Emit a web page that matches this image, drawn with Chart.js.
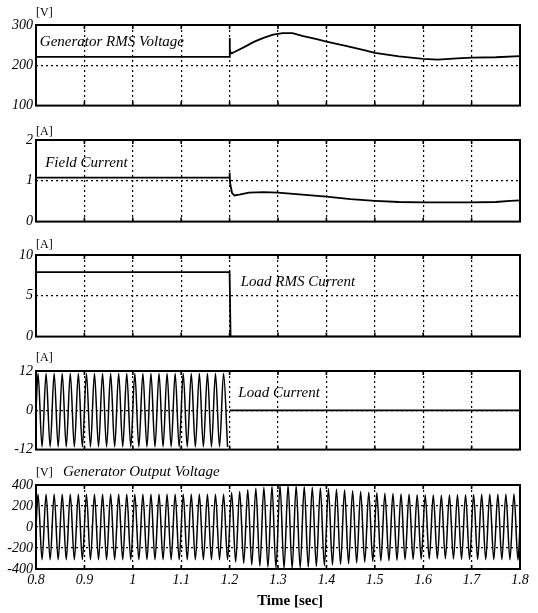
<!DOCTYPE html>
<html>
<head>
<meta charset="utf-8">
<script src="https://cdn.jsdelivr.net/npm/chart.js@4/dist/chart.umd.min.js"></script>
<style>
  html, body { margin: 0; padding: 0; background: #fff; }
  body { width: 538px; height: 613px; position: relative; overflow: hidden; }
  .panel { position: absolute; left: 0; }
</style>
</head>
<body>
<div class="panel" id="w1"><canvas id="c1"></canvas></div>
<div class="panel" id="w2"><canvas id="c2"></canvas></div>
<div class="panel" id="w3"><canvas id="c3"></canvas></div>
<div class="panel" id="w4"><canvas id="c4"></canvas></div>
<div class="panel" id="w5"><canvas id="c5"></canvas></div>
<script>
// ---------------- DATA ----------------
const timeTicks = [0.8, 0.9, 1, 1.1, 1.2, 1.3, 1.4, 1.5, 1.6, 1.7, 1.8];
const timeTickLabels = ['0.8', '0.9', '1', '1.1', '1.2', '1.3', '1.4', '1.5', '1.6', '1.7', '1.8'];

// Panel 1: Generator RMS Voltage [V]
const rmsVoltTicks = [100, 200, 300];
const rmsVoltTime  = [0.8, 1.199, 1.2, 1.2008, 1.202, 1.21, 1.23, 1.25, 1.27, 1.29, 1.31, 1.33, 1.35, 1.38, 1.40, 1.44, 1.48, 1.50, 1.55, 1.60, 1.63, 1.67, 1.70, 1.75, 1.80];
const rmsVoltValue = [221, 221, 268, 240, 229, 233, 245, 258, 268, 276, 280, 280, 273, 265, 259, 248, 237, 231, 222, 216, 214, 217, 219, 220, 223];

// Panel 2: Field Current [A]
const fieldTicks = [0, 1, 2];
const fieldTime  = [0.8, 1.199, 1.2, 1.201, 1.205, 1.21, 1.22, 1.24, 1.27, 1.30, 1.35, 1.40, 1.45, 1.50, 1.55, 1.60, 1.65, 1.70, 1.75, 1.78, 1.80];
const fieldValue = [1.08, 1.08, 1.2, 0.95, 0.7, 0.64, 0.66, 0.71, 0.72, 0.71, 0.66, 0.61, 0.55, 0.51, 0.48, 0.47, 0.47, 0.47, 0.48, 0.51, 0.52];

// Panel 3: Load RMS Current [A]
const loadRmsTicks = [0, 5, 10];
const loadRmsTime  = [0.8, 1.2, 1.202, 1.8];
const loadRmsValue = [7.9, 7.9, 0, 0];

// Times of the waveform peaks (60 Hz, one per half-cycle)
const peakTimes = [
  0.8042, 0.8125, 0.8208, 0.8292, 0.8375, 0.8458,
  0.8542, 0.8625, 0.8708, 0.8792, 0.8875, 0.8958,
  0.9042, 0.9125, 0.9208, 0.9292, 0.9375, 0.9458,
  0.9542, 0.9625, 0.9708, 0.9792, 0.9875, 0.9958,
  1.0042, 1.0125, 1.0208, 1.0292, 1.0375, 1.0458,
  1.0542, 1.0625, 1.0708, 1.0792, 1.0875, 1.0958,
  1.1042, 1.1125, 1.1208, 1.1292, 1.1375, 1.1458,
  1.1542, 1.1625, 1.1708, 1.1792, 1.1875, 1.1958,
  1.2042, 1.2125, 1.2208, 1.2292, 1.2375, 1.2458,
  1.2542, 1.2625, 1.2708, 1.2792, 1.2875, 1.2958,
  1.3042, 1.3125, 1.3208, 1.3292, 1.3375, 1.3458,
  1.3542, 1.3625, 1.3708, 1.3792, 1.3875, 1.3958,
  1.4042, 1.4125, 1.4208, 1.4292, 1.4375, 1.4458,
  1.4542, 1.4625, 1.4708, 1.4792, 1.4875, 1.4958,
  1.5042, 1.5125, 1.5208, 1.5292, 1.5375, 1.5458,
  1.5542, 1.5625, 1.5708, 1.5792, 1.5875, 1.5958,
  1.6042, 1.6125, 1.6208, 1.6292, 1.6375, 1.6458,
  1.6542, 1.6625, 1.6708, 1.6792, 1.6875, 1.6958,
  1.7042, 1.7125, 1.7208, 1.7292, 1.7375, 1.7458,
  1.7542, 1.7625, 1.7708, 1.7792, 1.7875, 1.7958
];

// Panel 4: Load Current [A] (peaks up to 1.2 s, then zero)
const loadCurTicks = [-12, 0, 12];
const loadCurPeaks = [
  11.2, -11.2, 11.2, -11.2, 11.2, -11.2, 11.2, -11.2, 11.2, -11.2, 11.2, -11.2,
  11.2, -11.2, 11.2, -11.2, 11.2, -11.2, 11.2, -11.2, 11.2, -11.2, 11.2, -11.2,
  11.2, -11.2, 11.2, -11.2, 11.2, -11.2, 11.2, -11.2, 11.2, -11.2, 11.2, -11.2,
  11.2, -11.2, 11.2, -11.2, 11.2, -11.2, 11.2, -11.2, 11.2, -11.2, 11.2, -11.2
];
const loadCurTailTime  = [1.2, 1.8];
const loadCurTailValue = [0, 0];

// Panel 5: Generator Output Voltage [V] (peaks, one per half-cycle)
const genVoltTicks = [-400, -200, 0, 200, 400];
const genVoltPeaks = [
  312, -312, 312, -312, 312, -312, 312, -312, 312, -312, 312, -312,
  312, -312, 312, -312, 312, -312, 312, -312, 312, -312, 312, -312,
  312, -312, 312, -312, 312, -312, 312, -312, 312, -312, 312, -312,
  312, -312, 312, -312, 312, -312, 312, -312, 312, -312, 312, -312,
  328, -333, 339, -346, 354, -361, 368, -373, 379, -383, 387, -390,
  394, -395, 396, -395, 394, -390, 385, -382, 379, -375, 372, -368,
  365, -362, 359, -355, 352, -349, 346, -342, 339, -335, 332, -329,
  327, -324, 322, -320, 318, -316, 314, -312, 311, -309, 308, -306,
  305, -304, 304, -303, 303, -303, 304, -305, 307, -307, 308, -309,
  310, -310, 311, -311, 311, -311, 311, -311, 312, -313, 314, -314
];

// ---------------- RENDERING ----------------
const FONT = '"Liberation Serif", "Times New Roman", serif';
const PLOT_LEFT = 36, PLOT_RIGHT = 520, W = 538;

function pts(times, values) { return times.map((t, i) => ({ x: t, y: values[i] })); }

const framePlugin = {
  id: 'frame',
  afterDraw(chart, args, opts) {
    const { ctx, chartArea: a, scales } = chart;
    ctx.save();
    ctx.strokeStyle = '#000';
    ctx.lineWidth = 2;
    ctx.setLineDash([]);
    ctx.strokeRect(a.left, a.top, a.right - a.left, a.bottom - a.top);
    ctx.lineWidth = 1.6;
    scales.x.ticks.forEach(t => {
      const px = scales.x.getPixelForValue(t.value);
      ctx.beginPath();
      ctx.moveTo(px, a.top); ctx.lineTo(px, a.top + 4);
      ctx.moveTo(px, a.bottom); ctx.lineTo(px, a.bottom - 4);
      ctx.stroke();
    });
    ctx.fillStyle = '#000';
    ctx.textBaseline = 'middle';
    (opts.labels || []).forEach(l => {
      ctx.font = l.font;
      ctx.textAlign = l.align || 'left';
      const x = (l.x !== undefined) ? scales.x.getPixelForValue(l.x) : a.left + l.dx;
      const y = (l.y !== undefined) ? scales.y.getPixelForValue(l.y) : (l.below ? a.bottom + l.dy : a.top + l.dy);
      ctx.fillText(l.text, x, y);
    });
    ctx.restore();
  }
};

function makePanel(n, plotTop, plotBottom, p) {
  const padTop = 20;
  const xAxisH = p.showX ? 44 : 0;
  const padBottom = p.showX ? 0 : 10;
  const h = padTop + (plotBottom - plotTop) + xAxisH + padBottom;
  const wrap = document.getElementById('w' + n);
  wrap.style.top = (plotTop - padTop) + 'px';
  const cv = document.getElementById('c' + n);
  cv.width = W; cv.height = h;
  cv.style.width = W + 'px'; cv.style.height = h + 'px';
  const yT = p.yTicks;
  const yMin = yT[0], yMax = yT[yT.length - 1];
  new Chart(cv, {
    type: 'line',
    data: { datasets: p.datasets },
    options: {
      responsive: false,
      animation: false,
      events: [],
      layout: { padding: { left: 0, right: W - PLOT_RIGHT, top: padTop, bottom: padBottom } },
      plugins: { legend: { display: false }, tooltip: { enabled: false }, frame: { labels: p.labels } },
      elements: { point: { radius: 0 } },
      scales: {
        x: {
          type: 'linear', min: 0.8, max: 1.8,
          afterBuildTicks: s => { s.ticks = timeTicks.map(v => ({ value: v })); },
          afterFit: s => { s.height = xAxisH; },
          ticks: {
            display: !!p.showX, padding: 3, color: '#000',
            font: { family: FONT, style: 'italic', size: 14 },
            callback: (v, i) => timeTickLabels[i],
            maxRotation: 0, autoSkip: false
          },
          grid: {
            drawTicks: false, lineWidth: 1.2,
            color: c => (c.tick && c.tick.value > 0.8 + 1e-9 && c.tick.value < 1.8 - 1e-9) ? '#000' : 'rgba(0,0,0,0)'
          },
          border: { display: false, dash: [2, 3] }
        },
        y: {
          type: 'linear', min: yMin, max: yMax,
          afterBuildTicks: s => { s.ticks = yT.map(v => ({ value: v })); },
          afterFit: s => { s.width = PLOT_LEFT; },
          ticks: {
            padding: 3, color: '#000',
            font: { family: FONT, style: 'italic', size: 14 },
            callback: v => String(v)
          },
          grid: {
            drawTicks: false, lineWidth: 1.2,
            color: c => (c.tick && c.tick.value !== yMin && c.tick.value !== yMax) ? '#000' : 'rgba(0,0,0,0)'
          },
          border: { display: false, dash: [2, 3] }
        }
      }
    },
    plugins: [framePlugin]
  });
}

const titleFont = 'italic 15px ' + FONT;
const unitFont = '12px ' + FONT;
const lineStyle = { borderColor: '#000', borderWidth: 1.8, pointRadius: 0, tension: 0, fill: false };
const waveStyle = { borderColor: '#000', borderWidth: 1.5, pointRadius: 0, cubicInterpolationMode: 'monotone', fill: false };

makePanel(1, 25, 107, {
  yTicks: rmsVoltTicks,
  datasets: [Object.assign({ data: pts(rmsVoltTime, rmsVoltValue) }, lineStyle)],
  labels: [
    { text: '[V]', dx: 0, dy: -12, font: unitFont },
    { text: 'Generator RMS Voltage', x: 0.808, y: 258, font: titleFont }
  ]
});

makePanel(2, 140, 223, {
  yTicks: fieldTicks,
  datasets: [Object.assign({ data: pts(fieldTime, fieldValue) }, lineStyle)],
  labels: [
    { text: '[A]', dx: 0, dy: -8, font: unitFont },
    { text: 'Field Current', x: 0.819, y: 1.44, font: titleFont }
  ]
});

makePanel(3, 255, 338, {
  yTicks: loadRmsTicks,
  datasets: [Object.assign({ data: pts(loadRmsTime, loadRmsValue) }, lineStyle)],
  labels: [
    { text: '[A]', dx: 0, dy: -10, font: unitFont },
    { text: 'Load RMS Current', x: 1.223, y: 6.66, font: titleFont }
  ]
});

makePanel(4, 371, 451, {
  yTicks: loadCurTicks,
  datasets: [
    Object.assign({ data: pts([0.8].concat(peakTimes.slice(0, loadCurPeaks.length)), [0].concat(loadCurPeaks)) }, waveStyle),
    Object.assign({ data: pts(loadCurTailTime, loadCurTailValue) }, lineStyle)
  ],
  labels: [
    { text: '[A]', dx: 0, dy: -13, font: unitFont },
    { text: 'Load Current', x: 1.218, y: 5.3, font: titleFont }
  ]
});

makePanel(5, 485, 569, {
  showX: true,
  yTicks: genVoltTicks,
  datasets: [Object.assign({ data: pts([0.8].concat(peakTimes, [1.8]), [0].concat(genVoltPeaks, [0])) }, waveStyle)],
  labels: [
    { text: '[V]', dx: 0, dy: -12, font: unitFont },
    { text: 'Generator Output Voltage', dx: 27, dy: -13, font: titleFont },
    { text: 'Time [sec]', x: 1.325, dy: 32, below: true, align: 'center', font: 'bold 15px ' + FONT }
  ]
});
</script>
</body>
</html>
